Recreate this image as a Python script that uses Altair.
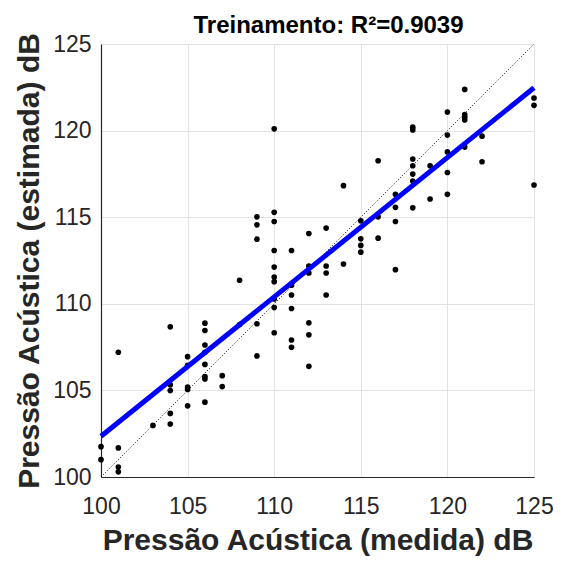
import altair as alt
import pandas as pd

# measured (x) and estimated (y) acoustic pressure, dB
measured = [104, 106, 106, 101, 108, 105, 105, 106, 106, 106, 106, 106, 107, 107,
            104, 104, 105, 105, 105, 106, 104, 104, 103, 100, 100, 101, 101, 101,
            110, 116, 114, 109, 110, 109, 110, 109, 113, 112, 115, 116, 116, 115,
            115, 115, 110, 111, 110, 112, 112, 113, 113, 114, 108, 110, 110, 111,
            111, 113, 110, 110, 111,
            109, 110, 112, 112, 111, 111, 109, 112,
            121, 120, 121, 121, 121, 118, 118, 120, 122, 120, 121, 118, 118, 119,
            118, 118, 120, 122, 125, 125, 125, 117, 117, 118, 119, 120, 117, 117]
estimated = [108.67, 108.88, 108.46, 107.2, 108.8, 106.95, 106.45, 107.62, 107.2,
             106.5, 105.8, 105.66, 105.85, 105.22, 105.32, 104.99, 105.19, 105.05,
             104.11, 104.32, 103.67, 103.06, 102.98, 101.75, 101.0, 101.68, 100.58,
             100.3,
             120.1, 118.26, 116.82, 115.02, 115.28, 114.56, 114.75, 113.73, 114.37,
             114.06, 114.79, 115.02, 113.79, 113.75, 113.37, 112.98, 113.08, 113.08,
             112.12, 112.18, 111.78, 112.18, 111.78, 112.30, 111.36, 111.55, 111.28,
             111.07, 110.51, 110.51, 110.28, 109.78, 109.73,
             108.85, 108.33, 108.9, 108.21, 107.91, 107.49, 106.99, 106.39,
             122.38, 121.07, 120.92, 120.77, 120.61, 120.2, 120.04, 119.74, 119.68,
             118.77, 119.05, 118.36, 117.97, 117.97, 117.49, 117.09, 117.58, 118.2,
             121.88, 121.46, 116.86, 116.32, 115.57, 115.54, 116.05, 116.32, 114.75,
             111.97]

fit_x = [100, 125]
fit_y = [102.35, 122.47]
ident = [100, 125]
ticks = [100, 105, 110, 115, 120, 125]

pts = pd.DataFrame({"x": measured, "y": estimated})
fit = pd.DataFrame({"x": fit_x, "y": fit_y})
diag = pd.DataFrame({"x": ident, "y": ident})

FONT = "Liberation Sans"

xs = alt.Scale(domain=[100, 125], nice=False, zero=False)
ys = alt.Scale(domain=[100, 125], nice=False, zero=False)

xaxis = alt.Axis(values=ticks, title="Pressão Acústica (medida) dB", grid=True,
                 labelFontSize=23, titleFontSize=30, titleFontWeight="bold",
                 labelFont=FONT, titleFont=FONT, labelColor="#262626",
                 titleColor="#262626", tickSize=0, labelPadding=18, titlePadding=7,
                 domainColor="#262626", domainWidth=1.2, gridColor="#e3e3e3",
                 labelFlush=False)
yaxis = alt.Axis(values=ticks, title="Pressão Acústica (estimada) dB", grid=True,
                 labelFontSize=23, titleFontSize=30, titleFontWeight="bold",
                 labelFont=FONT, titleFont=FONT, labelColor="#262626",
                 titleColor="#262626", tickSize=0, labelPadding=10, titlePadding=8,
                 domainColor="#262626", domainWidth=1.2, gridColor="#e3e3e3",
                 labelFlush=False)

points = alt.Chart(pts).mark_circle(size=32, color="black", opacity=1).encode(
    x=alt.X("x:Q", scale=xs, axis=xaxis),
    y=alt.Y("y:Q", scale=ys, axis=yaxis),
)
diag_line = alt.Chart(diag).mark_line(color="black", strokeWidth=1,
                                      strokeDash=[1, 2]).encode(
    x=alt.X("x:Q", scale=xs), y=alt.Y("y:Q", scale=ys))
fit_line = alt.Chart(fit).mark_line(color="#0000ff", strokeWidth=5).encode(
    x=alt.X("x:Q", scale=xs), y=alt.Y("y:Q", scale=ys))

chart = alt.layer(diag_line, points, fit_line).properties(
    width=433, height=433,
    title=alt.TitleParams("Treinamento: R²=0.9039", fontSize=24, font=FONT,
                          fontWeight="bold", color="black", offset=8, dy=14, dx=11),
    autosize=alt.AutoSizeParams(type="none"),
    padding={"left": 93, "top": 36, "right": 19, "bottom": 81},
).configure_view(stroke="#262626", strokeWidth=1.2).configure(background="white")

chart.save("out.html", embed_options={"renderer": "svg", "actions": False})
